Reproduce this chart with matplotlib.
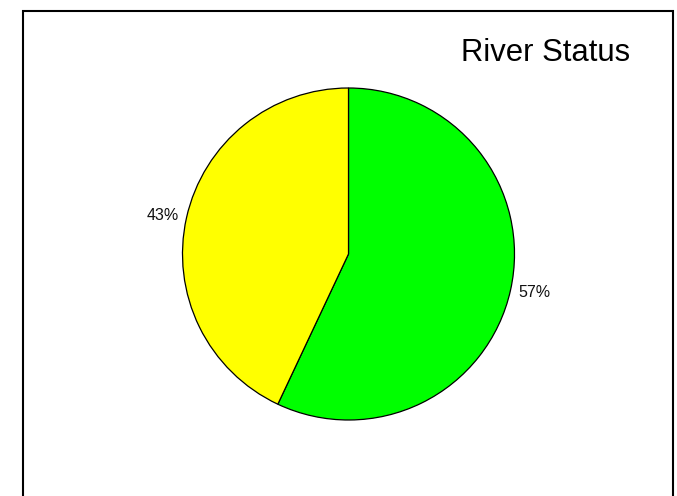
import matplotlib
matplotlib.use("Agg")
import matplotlib.pyplot as plt
from matplotlib.patches import Rectangle

plt.rcParams['font.family'] = ['Liberation Sans', 'DejaVu Sans']

labels = ["57%", "43%"]
values = [57, 43]
colors = ["#00ff00", "#ffff00"]
title = "River Status"

W, H = 677, 496
fig = plt.figure(figsize=(W / 100, H / 100), dpi=100)

# pie centre ~ (348.5, 254) px from top-left, radius ~166 px
r = 166
ax = fig.add_axes([(348.5 - r) / W, (H - 254 - r) / H, 2 * r / W, 2 * r / H])
wedges, texts = ax.pie(values, labels=labels, colors=colors, startangle=90,
                       counterclock=False, labeldistance=1.05,
                       wedgeprops={'edgecolor': 'black', 'linewidth': 0.9},
                       textprops={'fontsize': 11.5, 'color': '#111111'})
ax.set_xlim(-1, 1)
ax.set_ylim(-1, 1)
ax.set_aspect('equal')
ax.axis('off')

# frame around the chart, bottom edge runs off the image
frame = Rectangle((22.5 / W, -0.1), (672.5 - 22.5) / W, 1.1 - 10.5 / H,
                  transform=fig.transFigure, fill=False, edgecolor='black',
                  linewidth=1.5)
fig.patches.append(frame)

fig.text(461 / W, (H - 60.7) / H, title, fontsize=22.3, ha='left', va='baseline')

fig.savefig("out.png", dpi=100)
